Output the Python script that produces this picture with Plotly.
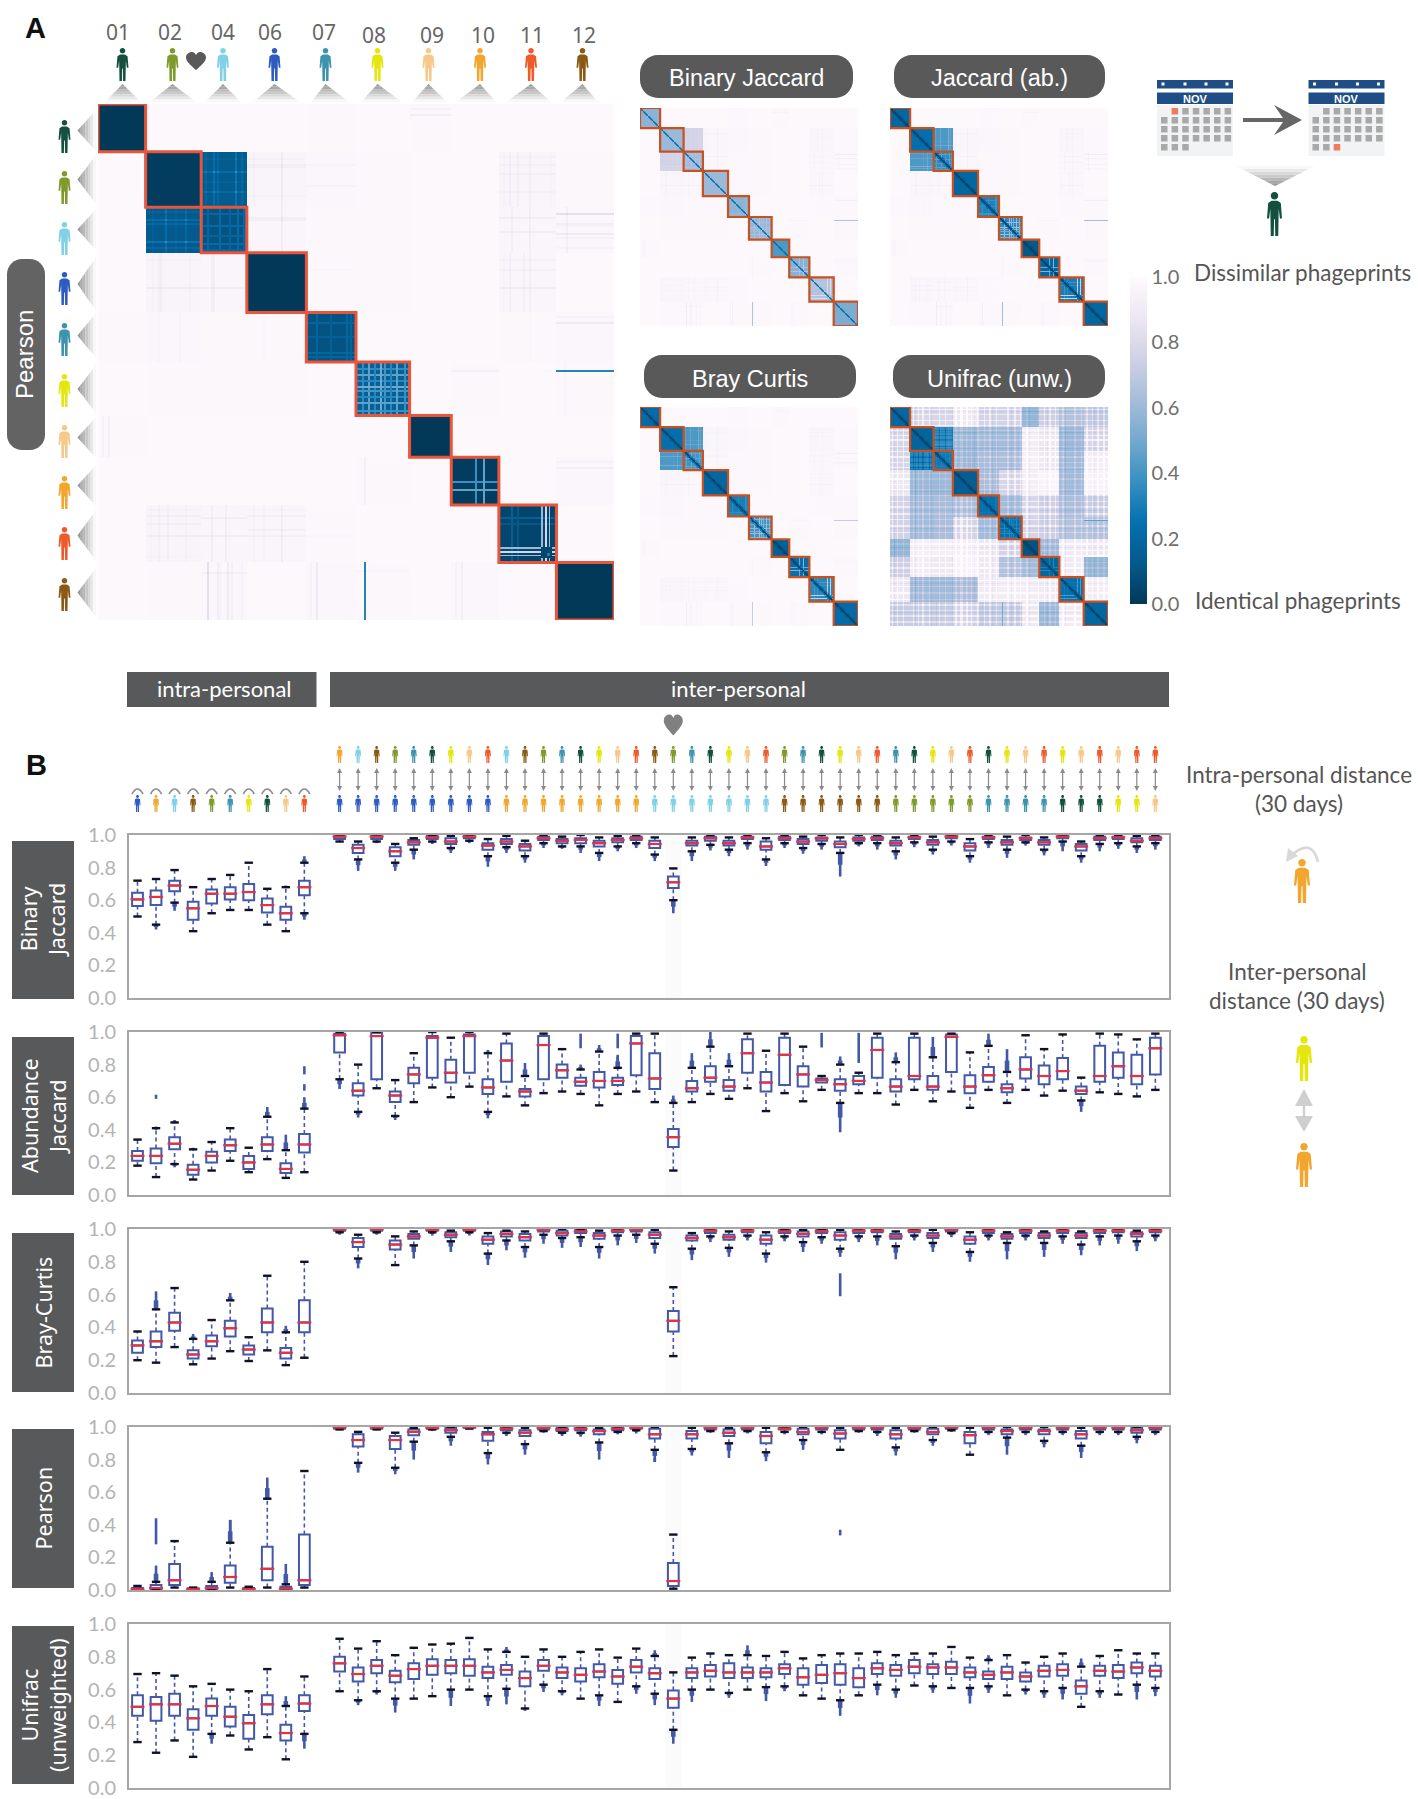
import numpy as np
import plotly.graph_objects as go

W, H = 1418, 1799

# ---------- people ----------
PERSON_IDS = ["01", "02", "04", "06", "07", "08", "09", "10", "11", "12"]
PERSON_COLORS = {"01": "#14503f", "02": "#7e9a2c", "04": "#80d0e6", "06": "#2d5cc0", "07": "#3c93ad",
                 "08": "#e4e60e", "09": "#f4c98a", "10": "#f2a62d", "11": "#ee5a2a", "12": "#8a5a14"}
BLOCK_SIZES = [24, 28, 23, 30, 25, 27, 21, 24, 29, 29]

INTRA_ORDER = ["06", "10", "04", "12", "02", "07", "08", "01", "09", "11"]
INTER_TOP = ["10", "04", "12", "02", "07", "01", "08", "09", "11",
             "04", "12", "02", "07", "01", "08", "09", "11",
             "12", "02", "07", "01", "08", "09", "11",
             "02", "07", "01", "08", "09", "11",
             "07", "01", "08", "09", "11",
             "01", "08", "09", "11",
             "08", "09", "11",
             "09", "11",
             "11"]
INTER_BOTTOM = ["06"] * 9 + ["10"] * 8 + ["04"] * 7 + ["12"] * 6 + ["02"] * 5 + ["07"] * 4 + ["01"] * 3 + ["08"] * 2 + ["09"]

# ---------- panel A : block-level distances ----------
PEARSON_BASE = [
    [.00, .985, .985, .985, .982, .985, .978, .985, .985, .985],
    [.985, .02, .13, .962, .972, .978, .985, .985, .962, .982],
    [.985, .125, .1, .965, .978, .98, .985, .985, .968, .975],
    [.985, .962, .965, .00, .982, .98, .985, .985, .968, .985],
    [.982, .972, .978, .982, .1, .985, .985, .985, .982, .975],
    [.985, .978, .98, .98, .985, .16, .985, .98, .985, .978],
    [.978, .985, .985, .985, .985, .985, .00, .985, .985, .985],
    [.985, .985, .985, .985, .985, .98, .985, .02, .985, .975],
    [.985, .962, .968, .968, .982, .985, .985, .985, .05, .985],
    [.985, .982, .975, .985, .975, .978, .985, .975, .985, .00],
]
BINARY_DIAG = [.56, .6, .62, .6, .56, .58, .42, .55, .66, .52]
JACCARD_DIAG = [.2, .24, .36, .2, .32, .36, .12, .2, .3, .2]
BRAY_DIAG = [.22, .24, .4, .2, .3, .4, .16, .24, .34, .22]
UNIFRAC_DIAG = [.2, .18, .28, .15, .25, .25, .1, .2, .25, .2]
BINARY_02_04 = .76
JACCARD_02_04 = .42
BRAY_02_04 = .42
UNIFRAC_BASE = [
    [.2, .78, .78, .88, .76, .76, .58, .74, .66, .7],
    [.78, .18, .36, .6, .62, .62, .92, .88, .6, .78],
    [.78, .34, .28, .6, .63, .64, .93, .88, .62, .92],
    [.88, .6, .6, .15, .64, .78, .93, .96, .62, .95],
    [.76, .62, .63, .64, .25, .62, .78, .74, .64, .72],
    [.76, .62, .64, .78, .62, .25, .77, .74, .66, .66],
    [.58, .93, .93, .93, .88, .77, .1, .62, .9, .88],
    [.74, .9, .88, .95, .88, .66, .62, .2, .9, .58],
    [.88, .62, .62, .64, .9, .92, .92, .9, .25, .92],
    [.72, .72, .72, .76, .7, .7, .88, .6, .9, .2],
]
# (row block, sample offset in that block, column block, change in distance)
STRIPES = [
    (5, 4, 9, -.65), (2, 3, 9, -.14), (2, 8, 9, -.06), (2, 13, 9, -.08), (2, 15, 9, -.05),
    (4, 5, 9, -.09), (4, 2, 9, -.03), (7, 5, 9, -.05), (7, 2, 9, -.03), (5, 4, 7, -.05),
    (0, 5, 6, -.06), (0, 2, 6, -.04), (3, 17, 1, -.07), (3, 17, 2, -.06), (3, 3, 1, -.03),
    (1, 6, 3, -.04), (1, 7, 3, -.04), (2, 5, 3, -.045), (2, 6, 3, -.045), (3, 17, 8, -.06), (3, 3, 8, -.03), (3, 8, 8, -.03),
    (1, 6, 8, -.035), (1, 11, 8, -.035), (2, 5, 8, -.045), (2, 12, 8, -.045), (1, 2, 8, -.02), (1, 20, 8, -.025),
    (8, 5, 1, -.045), (8, 9, 1, -.045), (8, 15, 1, -.045), (8, 6, 2, -.045), (8, 15, 2, -.045), (8, 2, 1, -.02),
    (8, 5, 3, -.04), (8, 12, 3, -.04), (8, 15, 3, -.04), (8, 15, 4, -.015), (8, 26, 1, -.015), (8, 2, 3, -.02),
    (1, 17, 4, -.025), (1, 6, 4, -.02), (3, 8, 4, -.015), (9, 5, 2, -.05), (9, 4, 5, -.02), (1, 3, 3, -.02), (1, 22, 3, -.02),
    (2, 9, 9, -.03), (2, 20, 9, -.03),
    (1, 10, 2, .1), (1, 20, 2, .08), (1, 3, 2, .03), (1, 15, 2, .03), (2, 6, 1, .1), (2, 8, 1, .07), (2, 17, 1, .13),
    (2, 2, 1, .05), (2, 20, 1, .07),
]
# (block, sample offset, distance) for the lighter rows and columns inside a person's block
INNER_STRIPES = [
    (2, 3, .2), (2, 9, .22), (2, 14, .18), (2, 18, .22), (2, 21, .2),
    (4, 5, .18), (4, 12, .16), (4, 20, .2), (4, 22, .18),
    (5, 3, .36), (5, 6, .46), (5, 9, .34), (5, 12, .5), (5, 14, .4), (5, 17, .34), (5, 20, .46), (5, 24, .38),
    (7, 12, .38), (7, 16, .46),
    (8, 6, .16), (8, 9, .12), (8, 21, .6), (8, 23, .78), (8, 25, .62),
]
# (block, first offset, last offset, distance) : the dark corner that the stripes leave in one block
INNER_CORNERS = [(8, 21, 26, .05), (8, 24, 25, .3)]
# (first sample, run length) of rows and columns that stand out in the Unifrac map
UNIFRAC_LIGHT_RUNS = [(2, 2), (8, 1), (15, 2), (21, 1), (27, 2), (33, 1), (38, 2), (46, 2), (52, 1), (58, 2), (65, 2), (71, 1), (78, 2), (84, 3),
                      (91, 2), (97, 1), (104, 2), (112, 1), (118, 2), (126, 2), (133, 1), (140, 2), (148, 2), (155, 1), (162, 2), (170, 1),
                      (176, 2), (184, 1), (190, 2), (197, 1), (205, 2), (213, 1), (220, 2), (228, 1), (234, 2), (241, 1), (247, 2), (254, 2)]
UNIFRAC_DARK_RUNS = [(5, 1), (30, 1), (49, 1), (74, 1), (100, 1), (122, 1), (144, 1), (166, 1), (187, 1), (209, 1), (225, 1), (243, 1)]
LIGHT_GAIN = .55
DARK_SHIFT = -.045

COLORSCALE = [[0, "#023858"], [.125, "#045a8d"], [.25, "#0570b0"], [.375, "#3690c0"], [.5, "#74a9cf"],
              [.625, "#a6bddb"], [.75, "#d0d1e6"], [.875, "#ece7f2"], [1, "#fffafd"]]
CBAR_TICKS = [0, .2, .4, .6, .8, 1]

# ---------- panel B : (cap low, q1, median, q3, cap high, lowest outlier, highest outlier) ----------
BINARY_BOX = [
    (.5, .565, .605, .645, .72, None, None), (.45, .57, .62, .66, .73, .42, None), (.585, .655, .69, .72, .785, .535, None),
    (.41, .48, .55, .59, .68, None, None), (.52, .58, .64, .665, .73, None, None), (.54, .605, .64, .68, .755, None, None),
    (.54, .6, .65, .7, .83, None, None), (.45, .525, .57, .61, .67, None, None), (.41, .48, .52, .56, .68, None, .69),
    (.52, .63, .68, .72, .83, .48, .87),
    (.96, .975, .99, .995, 1, .955, None), (.85, .89, .92, .94, .96, .78, None), (.96, .975, .99, .995, 1, .95, None),
    (.83, .87, .9, .925, .945, .78, None), (.91, .94, .955, .97, .98, .85, None), (.96, .975, .985, .995, 1, .945, None),
    (.92, .945, .96, .98, .995, .89, None), (.965, .98, .99, .995, 1, .95, None), (.87, .91, .935, .95, .975, .805, None),
    (.925, .945, .96, .975, .995, .89, None), (.87, .905, .93, .945, .965, .83, None), (.95, .97, .98, .99, 1, .92, None),
    (.93, .95, .965, .975, .99, .915, None), (.93, .95, .97, .98, 1, .89, None), (.89, .93, .95, .965, .985, .84, None),
    (.93, .955, .97, .98, .995, .9, None), (.95, .97, .98, .99, 1, .92, None), (.88, .92, .945, .965, .985, .84, None),
    (.6, .675, .71, .745, .795, .52, None), (.9, .935, .95, .965, .985, .84, None), (.94, .965, .98, .99, 1, .905, None),
    (.91, .935, .95, .965, .985, .87, None), (.95, .975, .985, .99, 1, .91, None), (.85, .91, .93, .96, .98, .81, None),
    (.95, .97, .98, .99, 1, .92, None), (.92, .945, .96, .975, .99, .885, None), (.945, .965, .98, .985, 1, .91, None),
    (.89, .925, .945, .96, .985, .745, None), (.95, .965, .975, .985, 1, .93, None), (.95, .97, .98, .99, 1, .91, None),
    (.9, .935, .95, .965, .985, .85, None), (.955, .975, .985, .99, 1, .925, None), (.91, .94, .955, .97, .99, .88, None),
    (.96, .98, .99, .995, 1, .935, None), (.87, .905, .93, .95, .975, .83, None), (.955, .975, .985, .99, 1, .92, None),
    (.91, .94, .955, .97, .99, .86, None), (.955, .97, .98, .985, 1, .935, None), (.91, .94, .955, .97, .985, .875, None),
    (.96, .98, .99, .995, 1, .9, None), (.87, .905, .93, .945, .96, .83, None), (.945, .97, .98, .99, 1, .9, None),
    (.95, .975, .985, .99, 1, .915, None), (.93, .955, .965, .98, .995, .89, None), (.95, .97, .98, .99, 1, .91, None),
]
ABUNDANCE_BOX = [
    (.18, .21, .24, .27, .34, None, None), (.11, .195, .24, .285, .41, None, None), (.19, .28, .315, .355, .445, .17, .46),
    (.095, .125, .155, .185, .28, None, .29), (.15, .2, .24, .265, .325, None, None), (.21, .27, .305, .34, .41, None, None),
    (.14, .16, .2, .24, .29, None, None), (.22, .27, .31, .355, .48, None, .54), (.105, .135, .16, .195, .275, None, .37),
    (.14, .26, .31, .375, .53, None, .6),
    (.71, .875, .98, .99, 1, .65, None), (.51, .61, .64, .685, .8, .475, None), (.655, .71, .975, .995, 1, None, None),
    (.485, .57, .61, .635, .705, .46, None), (.57, .685, .74, .78, .87, None, None), (.66, .72, .965, .975, 1, None, None),
    (.6, .69, .75, .83, .965, None, None), (.665, .75, .975, .985, 1, None, None), (.51, .62, .66, .71, .87, .47, .89),
    (.605, .695, .825, .93, .99, None, None), (.55, .605, .635, .65, .73, None, .81), (.625, .71, .92, .975, .99, None, None),
    (.635, .72, .765, .8, .895, None, None), (.62, .67, .695, .72, .77, None, .8), (.55, .66, .7, .755, .88, None, .92),
    (.62, .675, .7, .72, .78, None, .86), (.635, .735, .93, .975, .99, None, None), (.57, .65, .715, .87, .99, None, None),
    (.15, .295, .355, .405, .565, None, .61), (.57, .635, .655, .7, .78, None, .87), (.62, .695, .72, .79, .91, None, 1),
    (.59, .64, .665, .705, .79, None, .87), (.655, .75, .87, .955, .99, None, None), (.515, .635, .69, .755, .885, None, None),
    (.625, .675, .86, .965, .99, None, None), (.575, .665, .74, .79, .91, None, None), (.645, .69, .705, .715, .73, None, None),
    (.565, .64, .68, .71, .8, .385, .85), (.625, .68, .7, .73, .75, None, None), (.625, .72, .89, .965, .99, None, None),
    (.555, .635, .665, .71, .815, None, .875), (.645, .71, .73, .965, .99, None, None), (.575, .645, .665, .73, .845, None, .97),
    (.635, .755, .97, .985, .99, None, None), (.535, .625, .665, .735, .875, None, None), (.645, .695, .735, .785, .915, None, .99),
    (.565, .63, .655, .68, .755, None, .895), (.645, .715, .77, .845, .98, None, None), (.61, .68, .73, .795, .895, None, None),
    (.64, .71, .76, .84, .985, None, None), (.58, .62, .64, .665, .72, .51, None), (.63, .695, .73, .915, .99, None, None),
    (.62, .72, .79, .875, .985, None, None), (.605, .68, .73, .86, .955, None, None), (.645, .74, .9, .965, .99, None, None),
]
BRAY_BOX = [
    (.2, .245, .29, .32, .375, None, None), (.185, .28, .315, .375, .51, None, .62), (.28, .38, .43, .49, .64, None, None),
    (.175, .21, .235, .26, .33, None, .36), (.21, .285, .315, .35, .445, None, None), (.255, .345, .395, .44, .565, None, .61),
    (.195, .235, .265, .29, .34, None, None), (.26, .37, .43, .515, .715, None, None), (.17, .21, .245, .275, .37, None, .41),
    (.215, .37, .43, .565, .8, None, None),
    (.98, .99, .997, .998, 1, .965, None), (.82, .89, .92, .945, .965, .76, None), (.98, .99, .997, .998, 1, .965, None),
    (.78, .875, .905, .93, .955, .775, None), (.9, .94, .955, .97, .985, .82, None), (.98, .99, .995, .998, 1, .96, None),
    (.925, .95, .965, .98, .99, .86, None), (.98, .99, .995, .998, 1, .96, None), (.85, .91, .935, .955, .975, .78, None),
    (.93, .955, .97, .985, .99, .87, None), (.89, .93, .95, .97, .985, .825, None), (.965, .985, .995, .998, 1, .91, None),
    (.945, .96, .975, .99, 1, .885, None), (.95, .975, .985, .995, 1, .89, None), (.89, .94, .96, .975, .99, .82, None),
    (.96, .98, .99, .998, 1, .9, None), (.965, .985, .995, .998, 1, .915, None), (.91, .945, .965, .98, .995, .85, None),
    (.225, .375, .44, .5, .645, None, None), (.88, .93, .945, .96, .975, .81, None), (.955, .975, .99, .998, 1, .92, None),
    (.885, .935, .95, .965, .985, .83, None), (.96, .98, .99, .998, 1, .93, None), (.85, .91, .935, .96, .98, .795, None),
    (.955, .975, .985, .995, 1, .925, None), (.92, .955, .97, .985, .995, .86, None), (.95, .975, .985, .998, 1, .91, None),
    (.88, .935, .96, .98, .995, .83, None), (.955, .975, .99, .998, 1, .92, None), (.955, .98, .99, .998, 1, .9, None),
    (.895, .94, .955, .97, .985, .815, None), (.96, .98, .99, .998, 1, .93, None), (.915, .945, .96, .975, .995, .86, None),
    (.975, .985, .995, .998, 1, .95, None), (.86, .91, .935, .955, .98, .8, None), (.96, .975, .99, .998, 1, .93, None),
    (.915, .94, .955, .97, .98, .815, None), (.96, .975, .99, .998, 1, .93, None), (.915, .945, .96, .975, .985, .83, None),
    (.955, .975, .99, .998, 1, .91, None), (.905, .945, .96, .975, .985, .84, None), (.955, .975, .99, .998, 1, .9, None),
    (.96, .98, .99, .998, 1, .91, None), (.925, .955, .97, .98, .99, .865, None), (.96, .98, .99, .998, 1, .925, None),
]
PEARSON_BOX = [
    (0, .002, .005, .012, .025, None, .03), (0, 0, .012, .03, .05, None, .15), (.015, .03, .06, .16, .3, None, None),
    (0, 0, .005, .01, .015, None, None), (0, 0, .012, .025, .05, None, .11), (.015, .045, .08, .15, .29, None, .43),
    (0, 0, .005, .012, .02, None, None), (.015, .06, .13, .265, .56, None, .69), (0, 0, .008, .02, .035, None, .16),
    (.015, .03, .06, .34, .73, None, None),
    (.985, .99, .997, .999, 1, .98, None), (.78, .88, .92, .955, .97, .72, None), (.985, .99, .997, .999, 1, .98, None),
    (.75, .865, .92, .945, .965, .71, None), (.91, .95, .97, .985, .995, .8, None), (.985, .99, .995, .999, 1, .975, None),
    (.94, .965, .98, .995, .999, .885, None), (.99, .995, .998, .999, 1, None, None), (.84, .915, .955, .97, .995, .77, None),
    (.965, .98, .99, .998, 1, .945, None), (.895, .945, .965, .98, .995, .83, None), (.975, .985, .995, .999, 1, .965, None),
    (.965, .975, .985, .995, 1, .945, None), (.965, .98, .99, .998, 1, .94, None), (.905, .955, .975, .985, .995, .8, None),
    (.97, .98, .99, .998, 1, .955, None), (.98, .99, .995, .999, 1, .96, None), (.86, .93, .955, .99, 1, .785, None),
    (.008, .025, .055, .165, .34, None, None), (.865, .93, .955, .975, .995, .825, None), (.975, .985, .995, .999, 1, .965, None),
    (.9, .945, .965, .985, .995, .81, None), (.975, .985, .995, .999, 1, .96, None), (.845, .9, .945, .97, .995, .79, None),
    (.97, .985, .99, .998, 1, .955, None), (.92, .955, .97, .99, 1, .86, None), (.97, .985, .995, .999, 1, .955, None),
    (.86, .93, .96, .98, .995, None, None), (.975, .985, .995, .999, 1, .965, None), (.97, .985, .995, .999, 1, .945, None),
    (.875, .93, .955, .98, .995, .825, None), (.975, .985, .995, .999, 1, .965, None), (.92, .955, .97, .99, 1, .885, None),
    (.98, .99, .998, .999, 1, .97, None), (.83, .9, .95, .97, .995, None, None), (.97, .985, .995, .999, 1, .95, None),
    (.935, .955, .975, .985, 1, .83, None), (.97, .985, .995, .999, 1, .95, None), (.915, .955, .975, .985, 1, .875, None),
    (.97, .985, .995, .999, 1, .95, None), (.885, .93, .955, .975, .995, .81, None), (.97, .985, .995, .999, 1, .95, None),
    (.97, .985, .995, .999, 1, .95, None), (.94, .965, .98, .995, 1, .9, None), (.97, .985, .995, .999, 1, .95, None),
]
UNIFRAC_BOX = [
    (.28, .44, .495, .565, .695, None, None), (.215, .41, .51, .555, .7, None, None), (.29, .44, .51, .575, .685, None, None),
    (.19, .355, .425, .48, .62, None, None), (.33, .44, .5, .545, .635, .27, None), (.32, .375, .435, .495, .6, None, None),
    (.235, .3, .395, .445, .59, None, None), (.31, .45, .51, .565, .725, None, None), (.175, .29, .335, .385, .5, None, .56),
    (.33, .47, .515, .565, .68, .24, None),
    (.59, .71, .76, .8, .91, None, None), (.535, .65, .695, .735, .85, .505, None), (.59, .7, .745, .78, .895, .57, None),
    (.545, .645, .685, .715, .81, .46, None), (.545, .665, .725, .76, .855, None, None), (.56, .69, .745, .785, .875, None, None),
    (.6, .7, .745, .78, .88, .5, None), (.6, .685, .745, .785, .915, None, None), (.56, .67, .705, .74, .845, .5, None),
    (.605, .69, .72, .75, .83, .51, .86), (.485, .62, .67, .71, .8, .47, None), (.63, .715, .745, .78, .845, .585, None),
    (.59, .67, .705, .735, .8, .565, None), (.545, .65, .69, .73, .83, None, None), (.565, .675, .71, .755, .845, .5, None),
    (.525, .635, .68, .72, .795, None, None), (.62, .705, .74, .78, .85, .575, None), (.575, .665, .7, .73, .805, .505, .84),
    (.355, .49, .545, .595, .705, .27, None), (.6, .67, .705, .73, .795, .525, None), (.6, .68, .715, .75, .82, None, None),
    (.58, .67, .705, .76, .81, .55, None), (.6, .67, .705, .735, .81, None, .87), (.615, .675, .705, .73, .805, .53, None),
    (.62, .695, .73, .755, .83, .59, None), (.565, .63, .675, .73, .79, None, None), (.545, .64, .69, .75, .81, None, None),
    (.535, .63, .7, .755, .82, .44, None), (.565, .615, .67, .73, .82, None, None), (.63, .695, .73, .76, .83, .565, None),
    (.6, .685, .72, .75, .81, .55, None), (.625, .7, .74, .78, .82, None, None), (.62, .695, .735, .755, .82, .58, None),
    (.61, .695, .735, .77, .86, None, None), (.61, .675, .705, .735, .795, .515, None), (.62, .665, .69, .71, .78, .58, .81),
    (.565, .665, .705, .74, .81, None, None), (.6, .65, .68, .705, .765, .57, None), (.59, .68, .715, .745, .8, .55, None),
    (.61, .685, .72, .755, .82, .54, None), (.495, .575, .62, .655, .74, None, .79), (.59, .685, .715, .745, .805, .55, None),
    (.57, .67, .71, .75, .84, None, None), (.63, .7, .735, .765, .82, .54, None), (.61, .68, .715, .745, .82, .56, None),
]
# separate runs of outliers: (box index, from, to)
ABUNDANCE_RUNS = [(1, .59, .615), (1, .4, .42), (9, .64, .68), (9, .74, .79), (23, .9, .99), (25, .8, .85), (25, .9, .99), (36, .905, .995), (38, .81, .995)]
BRAY_RUNS = [(37, .59, .73)]
PEARSON_RUNS = [(1, .28, .44), (5, .285, .43), (37, .335, .37), (27, .785, .81)]
BINARY_RUNS, UNIFRAC_RUNS = [], []
HEART_BOX = 28

# ---------- helpers ----------
def px(x): return x / W
def py(y): return 1 - y / H
shapes, annotations = [], []


def poly(points, color, line=None, lw=0):
    d = "M" + " L".join(f"{px(a):.5f},{py(b):.5f}" for a, b in points) + " Z"
    shapes.append(dict(type="path", path=d, xref="paper", yref="paper", fillcolor=color, line=dict(width=lw, color=line or color)))


def rrect(x0, y0, x1, y1, r, color):
    k = r * .45
    seg = [(x0 + r, y0), (x1 - r, y0), (x1 - k, y0), (x1, y0 + k), (x1, y0 + r), (x1, y1 - r), (x1, y1 - k), (x1 - k, y1), (x1 - r, y1),
           (x0 + r, y1), (x0 + k, y1), (x0, y1 - k), (x0, y1 - r), (x0, y0 + r), (x0, y0 + k), (x0 + k, y0), (x0 + r, y0)]
    f = lambda p: f"{px(p[0]):.5f},{py(p[1]):.5f}"
    d = f"M{f(seg[0])} L{f(seg[1])} C{f(seg[2])} {f(seg[3])} {f(seg[4])} L{f(seg[5])} C{f(seg[6])} {f(seg[7])} {f(seg[8])} L{f(seg[9])} C{f(seg[10])} {f(seg[11])} {f(seg[12])} L{f(seg[13])} C{f(seg[14])} {f(seg[15])} {f(seg[16])} Z"
    shapes.append(dict(type="path", path=d, xref="paper", yref="paper", fillcolor=color, line=dict(width=0)))


BODY = [(-.2, .2), (.2, .2), (.42, .25), (.5, .6), (.36, .6), (.28, .38), (.25, 1.0), (.05, 1.0), (.03, .62), (-.03, .62), (-.05, 1.0),
        (-.25, 1.0), (-.28, .38), (-.36, .6), (-.5, .6), (-.42, .25)]


def person(cx, top, w, h, color):
    f = lambda a, b: f"{px(a):.5f},{py(b):.5f}"
    r = .085 * h
    cy = top + r
    k = .55 * r
    d = f"M{f(cx - r, cy)} C{f(cx - r, cy - k)} {f(cx - k, cy - r)} {f(cx, cy - r)} C{f(cx + k, cy - r)} {f(cx + r, cy - k)} {f(cx + r, cy)} C{f(cx + r, cy + k)} {f(cx + k, cy + r)} {f(cx, cy + r)} C{f(cx - k, cy + r)} {f(cx - r, cy + k)} {f(cx - r, cy)} Z "
    d += "M" + " L".join(f(cx + u * w, top + v * h) for u, v in BODY) + " Z"
    shapes.append(dict(type="path", path=d, xref="paper", yref="paper", fillcolor=color, line=dict(width=0)))


def grey(t):
    v = int(136 + (248 - 136) * t)
    return f"rgb({v},{v},{v})"


def tri_down(ax, ay, by, x0, x1, n=7):  # apex at top, fading to the base
    for i in range(n):
        t0, t1 = i / n, (i + 1) / n
        poly([(ax + (x0 - ax) * t0, ay + (by - ay) * t0), (ax + (x1 - ax) * t0, ay + (by - ay) * t0),
              (ax + (x1 - ax) * t1, ay + (by - ay) * t1), (ax + (x0 - ax) * t1, ay + (by - ay) * t1)], grey(t1))


def tri_right(ax, ay, bx, y0, y1, n=7):
    for i in range(n):
        t0, t1 = i / n, (i + 1) / n
        poly([(ax + (bx - ax) * t0, ay + (y0 - ay) * t0), (ax + (bx - ax) * t0, ay + (y1 - ay) * t0),
              (ax + (bx - ax) * t1, ay + (y1 - ay) * t1), (ax + (bx - ax) * t1, ay + (y0 - ay) * t1)], grey(t1))


def heart(cx, cy, w, h, color):
    f = lambda a, b: f"{px(cx + a * w):.5f},{py(cy + b * h):.5f}"
    d = (f"M{f(0, .5)} C{f(-.3, .2)} {f(-.5, 0)} {f(-.5, -.2)} C{f(-.5, -.42)} {f(-.3, -.5)} {f(-.2, -.5)} "
         f"C{f(-.1, -.5)} {f(-.03, -.42)} {f(0, -.33)} C{f(.03, -.42)} {f(.1, -.5)} {f(.2, -.5)} "
         f"C{f(.3, -.5)} {f(.5, -.42)} {f(.5, -.2)} C{f(.5, 0)} {f(.3, .2)} {f(0, .5)} Z")
    shapes.append(dict(type="path", path=d, xref="paper", yref="paper", fillcolor=color, line=dict(width=0)))


def text(x, y, s, size, color="#5a5a5a", font="Lato", angle=0, anchor="center", bold=False):
    if bold:
        s = f"<b>{s}</b>"
    annotations.append(dict(x=px(x), y=py(y), xref="paper", yref="paper", text=s, showarrow=False, textangle=angle, xanchor=anchor, yanchor="middle",
                            font=dict(family=font, size=size, color=color), align="center"))


def rect(x0, y0, x1, y1, color):
    shapes.append(dict(type="rect", x0=px(x0), x1=px(x1), y0=py(y1), y1=py(y0), xref="paper", yref="paper", fillcolor=color, line=dict(width=0)))


# ---------- heat maps ----------
EDGES = np.cumsum([0] + BLOCK_SIZES)
N = int(EDGES[-1])


def owner(i):
    return int(np.searchsorted(EDGES, i, side="right") - 1)


def build(base, stripe_scale, inner_scale, diag_value=None, band=None):
    z = np.zeros((N, N))
    for a in range(10):
        for b in range(10):
            z[EDGES[a]:EDGES[a + 1], EDGES[b]:EDGES[b + 1]] = base[a][b]
    for rb, off, cb, d in STRIPES:
        r = EDGES[rb] + off
        c0, c1 = EDGES[cb], EDGES[cb + 1]
        s = inner_scale if (rb in (1, 2) and cb in (1, 2)) else stripe_scale
        z[r, c0:c1] += d * s
        z[c0:c1, r] += d * s
    for b, off, v in INNER_STRIPES:
        r = EDGES[b] + off
        c0, c1 = EDGES[b], EDGES[b + 1]
        vv = base[b][b] + (v - PEARSON_BASE[b][b]) * inner_scale
        z[r, c0:c1] = vv
        z[c0:c1, r] = vv
    for b, o0, o1, v in INNER_CORNERS:
        s0, s1 = EDGES[b] + o0, EDGES[b] + o1 + 1
        z[s0:s1, s0:s1] = base[b][b] + (v - PEARSON_BASE[b][b]) * inner_scale
    if band:
        for a in range(10):
            for i in range(EDGES[a], EDGES[a + 1]):
                for j in range(EDGES[a], EDGES[a + 1]):
                    if abs(i - j) <= band[0]:
                        z[i, j] *= band[1]
    if diag_value is not None:
        for i in range(N):
            if i + 1 < N and owner(i) == owner(i + 1):
                z[i, i + 1] = z[i + 1, i] = diag_value + (z[i, i + 1] - diag_value) * .45
        for i in range(N):
            z[i, i] = diag_value
    return np.clip(z, 0, 1)


def small_base(diag, pair, faint):
    base = [[.985 - (.985 - v) * faint for v in row] for row in PEARSON_BASE]
    for a in range(10):
        base[a][a] = diag[a]
    base[1][2] = base[2][1] = pair
    return base


def unifrac_base():
    base = [row[:] for row in UNIFRAC_BASE]
    for a in range(10):
        base[a][a] = UNIFRAC_DIAG[a]
    return base


z_pearson = build(PEARSON_BASE, 1, 1)
z_binary = build(small_base(BINARY_DIAG, BINARY_02_04, .7), .5, .25, .22)
z_jaccard = build(small_base(JACCARD_DIAG, JACCARD_02_04, .7), .55, .8, .02, (3, .7))
z_bray = build(small_base(BRAY_DIAG, BRAY_02_04, .7), .4, .7, .02, (3, .7))
z_unifrac = build(unifrac_base(), .3, .3, .02, (3, .7))
for start, length in UNIFRAC_LIGHT_RUNS:
    for i in range(start, start + length):
        for j in range(N):
            if owner(i) != owner(j):
                z_unifrac[i, j] = np.clip(z_unifrac[i, j] + LIGHT_GAIN * (z_unifrac[i, j] - .5), 0, 1)
                z_unifrac[j, i] = np.clip(z_unifrac[j, i] + LIGHT_GAIN * (z_unifrac[j, i] - .5), 0, 1)
for start, length in UNIFRAC_DARK_RUNS:
    for i in range(start, start + length):
        for j in range(N):
            if owner(i) != owner(j):
                z_unifrac[i, j] = np.clip(z_unifrac[i, j] + DARK_SHIFT, 0, 1)
                z_unifrac[j, i] = np.clip(z_unifrac[j, i] + DARK_SHIFT, 0, 1)

MAPS = [  # z, x0, x1, y0, y1, outline colour, outline width
    (z_pearson, 98, 614, 104, 620, "#e8553a", 3),
    (z_binary, 640, 858, 108, 326, "#c9501f", 2.2),
    (z_jaccard, 890, 1108, 108, 326, "#c9501f", 2.2),
    (z_bray, 640, 858, 407, 626, "#c9501f", 2.2),
    (z_unifrac, 890, 1108, 407, 626, "#c9501f", 2.2),
]

fig = go.Figure()
layout_axes = {}
axis_n = 1
xs = np.arange(N) + .5
for k, (z, x0, x1, y0, y1, col, lw) in enumerate(MAPS):
    name = "" if axis_n == 1 else str(axis_n)
    fig.add_trace(go.Heatmap(z=np.round(z, 3), x=xs, y=xs, coloraxis="coloraxis", xaxis="x" + name, yaxis="y" + name, hoverinfo="skip"))
    layout_axes["xaxis" + name] = dict(domain=[px(x0), px(x1)], range=[0, N], visible=False, anchor="y" + name)
    layout_axes["yaxis" + name] = dict(domain=[py(y1), py(y0)], range=[N, 0], visible=False, anchor="x" + name)
    for a in range(10):
        shapes.append(dict(type="rect", xref="x" + name, yref="y" + name, x0=EDGES[a], x1=EDGES[a + 1], y0=EDGES[a], y1=EDGES[a + 1],
                           line=dict(color=col, width=lw), fillcolor="rgba(0,0,0,0)"))
    axis_n += 1

# ---------- box panels ----------
PANELS = [
    ("Binary<br>Jaccard", BINARY_BOX, BINARY_RUNS, 835, 998, 841, 999),
    ("Abundance<br>Jaccard", ABUNDANCE_BOX, ABUNDANCE_RUNS, 1032, 1195, 1037, 1195),
    ("Bray-Curtis", BRAY_BOX, BRAY_RUNS, 1229, 1393, 1233, 1392),
    ("Pearson", PEARSON_BOX, PEARSON_RUNS, 1427, 1590, 1429, 1588),
    ("Unifrac<br>(unweighted)", UNIFRAC_BOX, UNIFRAC_RUNS, 1624, 1788, 1626, 1784),
]
POS = [float(i) for i in range(10)] + [10.9 + j for j in range(45)]
XPX0, XUNIT = 137.5, 18.54
XRANGE = [(129 - XPX0) / XUNIT, (1169 - XPX0) / XUNIT]
BLUE = "#4358a8"

for label, table, runs, top, bot, ltop, lbot in PANELS:
    nm = str(axis_n)
    xa, ya = "x" + nm, "y" + nm
    layout_axes["xaxis" + nm] = dict(domain=[px(129), px(1169)], range=XRANGE, anchor=ya, showticklabels=False, ticks="", showgrid=False, zeroline=False,
                                     showline=True, mirror=True, linecolor="#a6a6a6", linewidth=2)
    layout_axes["yaxis" + nm] = dict(domain=[py(bot), py(top)], range=[0, 1], anchor=xa, tickvals=[0, .2, .4, .6, .8, 1], ticktext=["0.0", "0.2", "0.4", "0.6", "0.8", "1.0"],
                                     ticks="outside", ticklen=7, tickcolor="rgba(0,0,0,0)", showgrid=False, zeroline=False, showline=True, mirror=True,
                                     linecolor="#a6a6a6", linewidth=2, tickfont=dict(family="Lato", size=20, color="#b4b4b4"))
    shapes.append(dict(type="rect", xref=xa, yref=ya, x0=POS[HEART_BOX] - .45, x1=POS[HEART_BOX] + .45, y0=0, y1=1, fillcolor="#fbfbfb", line=dict(width=0), layer="below"))
    lo = [r[0] for r in table]; q1 = [r[1] for r in table]; med = [r[2] for r in table]; q3 = [r[3] for r in table]; hi = [r[4] for r in table]
    wx, wy, nx, ny, fx, fy = [], [], [], [], [], []
    for p, r in zip(POS, table):
        wx += [p, p, None, p, p, None]
        wy += [r[0], r[1], None, r[3], r[4], None]
        for cap, out in ((r[0], r[5]), (r[4], r[6])):
            if out is not None:
                mid = (cap + out) / 2
                nx += [p, p, None]; ny += [cap, mid, None]
                fx += [p, p, None]; fy += [cap, out, None]
    for b, a0, a1 in runs:
        fx += [POS[b], POS[b], None]; fy += [a0, a1, None]
    fig.add_trace(go.Scatter(x=wx, y=wy, mode="lines", line=dict(color=BLUE, width=1.6, dash="4px,3px"), xaxis=xa, yaxis=ya, hoverinfo="skip"))
    fig.add_trace(go.Box(x=POS, q1=q1, median=med, q3=q3, lowerfence=q1, upperfence=q3, width=.58, line=dict(color=BLUE, width=2), fillcolor="white",
                         xaxis=xa, yaxis=ya, boxpoints=False, whiskerwidth=0, hoverinfo="skip"))
    fig.add_trace(go.Scatter(x=fx, y=fy, mode="lines", line=dict(color=BLUE, width=2.6), xaxis=xa, yaxis=ya, hoverinfo="skip"))
    fig.add_trace(go.Scatter(x=nx, y=ny, mode="lines", line=dict(color=BLUE, width=4.6), xaxis=xa, yaxis=ya, hoverinfo="skip"))
    fig.add_trace(go.Scatter(x=POS + POS, y=lo + hi, mode="markers", marker=dict(symbol="line-ew", size=6, line=dict(color="#111122", width=2.4)), xaxis=xa, yaxis=ya, hoverinfo="skip"))
    fig.add_trace(go.Scatter(x=POS, y=med, mode="markers", marker=dict(symbol="line-ew", size=10, line=dict(color="#e83040", width=2.2)), xaxis=xa, yaxis=ya, hoverinfo="skip"))
    # side label
    rect(12, ltop, 74, lbot, "#58595b")
    text(43, (ltop + lbot) / 2, label, 21.5, "white", "Noto Sans", -90)
    axis_n += 1

# ---------- panel A furniture ----------
TOP_LABEL_X = [117.5, 170, 222.5, 269.5, 323.5, 374.5, 431.5, 482.5, 532, 584]
TOP_LABEL_Y = [32, 32, 32, 32, 32, 35, 35, 35, 35, 35]
TOP_PERSON_X = [122.5, 172.5, 223, 274.5, 325.5, 377.5, 428.5, 480, 531, 582.5]
TOP_TRI = [(105, 141), (150, 196), (205, 241), (253, 300), (311, 349), (361, 402), (412, 447), (456, 496), (506, 551), (561, 598)]
LEFT_PERSON_TOP = [120, 171, 222, 272, 323, 374, 425, 476, 527, 578]
LEFT_TRI = [(110, 151), (155, 204), (209, 250), (257, 311), (313, 358), (365, 413), (417, 458), (465, 506), (510, 561), (568, 617)]
for i, pid in enumerate(PERSON_IDS):
    text(TOP_LABEL_X[i], TOP_LABEL_Y[i], pid, 21, "#666666", "Noto Sans")
    person(TOP_PERSON_X[i], 48, 12, 33, PERSON_COLORS[pid])
    tri_down(TOP_PERSON_X[i], 84, 102, TOP_TRI[i][0], TOP_TRI[i][1])
    person(64.5, LEFT_PERSON_TOP[i], 12, 33, PERSON_COLORS[pid])
    tri_right(77.5, (LEFT_TRI[i][0] + LEFT_TRI[i][1]) / 2, 96, LEFT_TRI[i][0], LEFT_TRI[i][1])
heart(196, 61, 20, 18, "#595959")
text(35, 28, "A", 29, "#111111", "Liberation Sans", bold=True)
text(36, 765, "B", 29, "#111111", "Liberation Sans", bold=True)
rrect(7, 259, 45, 450, 15, "#636363")
text(25, 355, "Pearson", 24, "white", "Liberation Sans", -90)

PILLS = [("Binary Jaccard", 640, 853, 55, 98), ("Jaccard (ab.)", 894, 1105, 55, 98), ("Bray Curtis", 644, 856, 355, 398), ("Unifrac (unw.)", 893, 1105, 355, 398)]
for s, a, b, c, d in PILLS:
    rrect(a, c, b, d, 18, "#595959")
    text((a + b) / 2, (c + d) / 2 + 2, s, 23.5, "white", "Liberation Sans")

text(1192, 272, "Dissimilar phageprints", 22.5, "#555555", "Lato", anchor="left")
text(1193, 601, "Identical phageprints", 22.5, "#555555", "Lato", anchor="left")

# calendars
CAL_X = [1157, 1308.5]
for c, x in enumerate(CAL_X):
    rect(x, 105, x + 76, 156, "#f1f3f5")
    rect(x, 80, x + 76, 88.5, "#1f4e86")
    rect(x, 92.5, x + 76, 104, "#1f4e86")
    for d in (6, 28, 49, 70):
        rect(x + d - 1.5, 82.5, x + d + 1.5, 85.5, "white")
    text(x + 38, 98.5, "NOV", 11, "white", "Liberation Sans", bold=True)
    for row, yy in enumerate((108, 117, 126, 135, 144)):
        for col in range(7):
            if row == 0 and col == 0:
                continue
            if row == 4 and col > 2:
                continue
            orange = (c == 0 and row == 0 and col == 1) or (c == 1 and row == 4 and col == 2)
            xx = x + 7 + col * 10.6
            rect(xx - 3, yy, xx + 3.5, yy + 6.5, "#ee7d5d" if orange else "#a9a9a9")
poly([(1243, 118), (1283, 118), (1274, 105), (1302, 120), (1274, 135), (1283, 122), (1243, 122)], "#666666")
tri_down(1275, 186, 166, 1236, 1315)
person(1274.5, 192, 15, 44, PERSON_COLORS["01"])

# ---------- panel B furniture ----------
rect(127, 672, 316.5, 707, "#58595b")
rect(330, 672, 1169, 707, "#58595b")
text(224, 688, "intra-personal", 22, "white", "Lato")
text(738, 688, "inter-personal", 22, "white", "Lato")
heart(POS[HEART_BOX] * XUNIT + XPX0, 725, 19, 21, "#808080")
for i, pid in enumerate(INTRA_ORDER):
    cx = POS[i] * XUNIT + XPX0
    person(cx, 795, 6, 17, PERSON_COLORS[pid])
    a = lambda u, v: f"{px(cx + u):.5f},{py(v):.5f}"
    shapes.append(dict(type="path", xref="paper", yref="paper", path=f"M{a(-5.5, 794)} Q{a(0, 784)} {a(5.5, 794)}", line=dict(color="#8c8c8c", width=1.6)))
for j in range(45):
    cx = POS[10 + j] * XUNIT + XPX0
    person(cx, 746, 6, 17, PERSON_COLORS[INTER_TOP[j]])
    person(cx, 795, 6, 17, PERSON_COLORS[INTER_BOTTOM[j]])
    poly([(cx, 768), (cx + 2.5, 773), (cx + .6, 773), (cx + .6, 786), (cx + 2.5, 786), (cx, 791), (cx - 2.5, 786), (cx - .6, 786), (cx - .6, 773), (cx - 2.5, 773)], "#8a8a8a")

text(1299, 774, "Intra-personal distance", 22.5, "#555555", "Lato")
text(1299, 803, "(30 days)", 22.5, "#555555", "Lato")
text(1297, 972, "Inter-personal", 22.5, "#555555", "Lato")
text(1297, 1000, "distance (30 days)", 22.5, "#555555", "Lato")
person(1302, 859, 16, 44, PERSON_COLORS["10"])
person(1304, 1036, 16, 45, PERSON_COLORS["08"])
person(1304, 1143, 16, 44, PERSON_COLORS["10"])
a = lambda u, v: f"{px(u):.5f},{py(v):.5f}"
shapes.append(dict(type="path", xref="paper", yref="paper", path=f"M{a(1318, 862)} Q{a(1312, 838)} {a(1293, 854)}", line=dict(color="#d8d8d8", width=2.6)))
poly([(1286, 862), (1288, 848), (1298, 856)], "#d8d8d8")
poly([(1304, 1089), (1313, 1106), (1305.2, 1106), (1305.2, 1116), (1313, 1116), (1304, 1132), (1295, 1116), (1302.8, 1116), (1302.8, 1106), (1295, 1106)], "#cfcfcf")

fig.update_layout(
    width=W, height=H, margin=dict(l=0, r=0, t=0, b=0, autoexpand=False), paper_bgcolor="white", plot_bgcolor="white", showlegend=False,
    shapes=shapes, annotations=annotations, hovermode=False,
    coloraxis=dict(cmin=0, cmax=1, colorscale=COLORSCALE,
                   colorbar=dict(x=px(1130), xanchor="left", y=py(604), yanchor="bottom", len=327 / H, lenmode="fraction", thickness=17, thicknessmode="pixels",
                                 outlinewidth=0, tickvals=CBAR_TICKS, ticktext=["0.0", "0.2", "0.4", "0.6", "0.8", "1.0"], ticks="", xpad=0, ypad=0,
                                 tickfont=dict(family="Lato", size=20, color="#6e6e6e"))),
    **layout_axes,
)
fig.write_html("out.html", config=dict(displayModeBar=False),
               post_script="document.body.style.margin='0';document.documentElement.style.overflow='hidden';")
